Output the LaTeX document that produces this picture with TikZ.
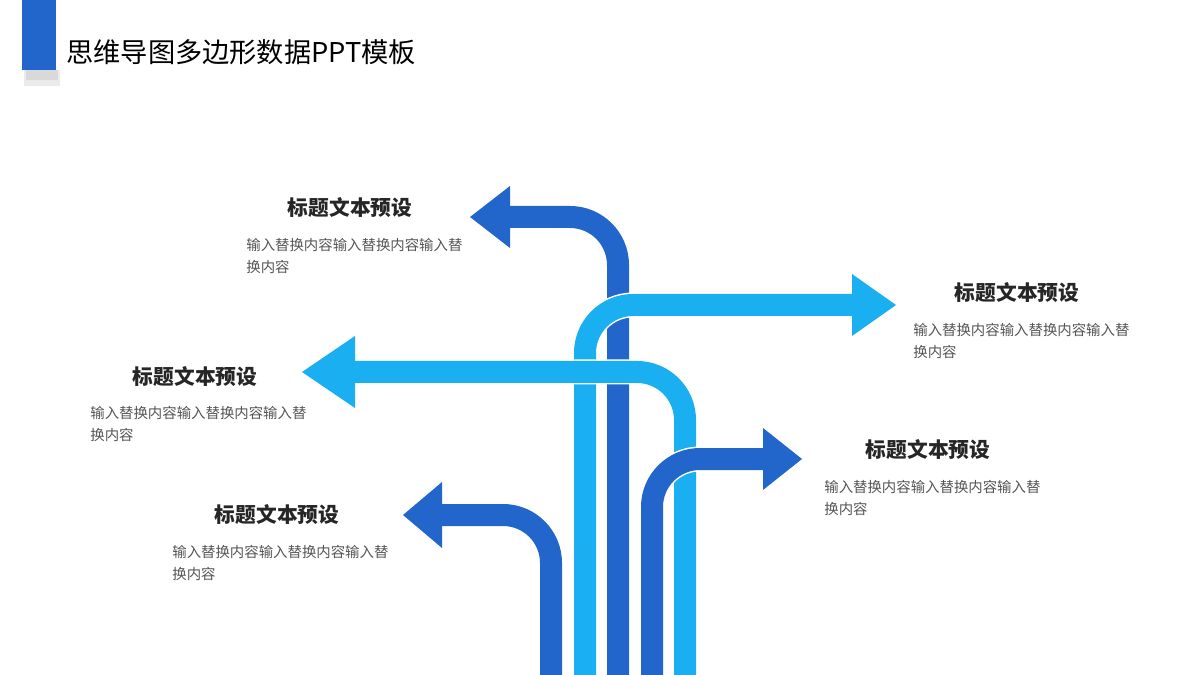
\documentclass[tikz,border=0pt]{standalone}
\usepackage{fontspec}
\setmainfont{Noto Sans CJK SC}
\definecolor{darkblue}{HTML}{2266CC}
\definecolor{lightblue}{HTML}{1AAFF0}
\definecolor{bodygray}{HTML}{555555}
\tikzset{
  shaft/.style={line width=22*0.02cm, rounded corners=48*0.02cm},
  gap/.style={line width=25*0.02cm, white, rounded corners=48*0.02cm},
  heading/.style={font=\fontsize{11.8}{13}\selectfont\bfseries, text=black!85},
  body/.style={font=\fontsize{8.2}{12.5}\selectfont, text=bodygray, anchor=north west, align=left, inner sep=0pt}
}
\begin{document}
\begin{tikzpicture}[x=0.02cm,y=-0.02cm]
  \useasboundingbox (0,0) rectangle (1200,675);
  % title bar
  \fill[black!8] (24,70) rectangle (60,86);
  \fill[black!15] (26,70) rectangle (58,80);
  \fill[darkblue] (22,0) rectangle (56,70);
  \node[anchor=west, font=\fontsize{15.5}{18}\selectfont, inner sep=0pt] (title) at (66,52) {思维导图多边形数据PPT模板};
  % arrows
  \draw[shaft, darkblue] (618,676) -- (618,217) -- (508,217);
  \fill[darkblue] (510,186) -- (470,217) -- (510,248) -- cycle;
  \draw[gap] (585,676) -- (585,305) -- (855,305);
  \draw[shaft, lightblue] (585,676) -- (585,305) -- (855,305);
  \fill[lightblue] (852,274) -- (896,305) -- (852,336) -- cycle;
  \draw[gap] (685,676) -- (685,372) -- (353,372);
  \draw[shaft, lightblue] (685,676) -- (685,372) -- (353,372);
  \fill[lightblue] (355,336) -- (302,372) -- (355,408) -- cycle;
  \draw[gap] (652,676) -- (652,459) -- (765,459);
  \draw[shaft, darkblue] (652,676) -- (652,459) -- (765,459);
  \fill[darkblue] (763,428) -- (802,459) -- (763,490) -- cycle;
  \draw[gap] (551,676) -- (551,515) -- (440,515);
  \draw[shaft, darkblue] (551,676) -- (551,515) -- (440,515);
  \fill[darkblue] (442,482) -- (403,515) -- (442,548) -- cycle;
  % texts
  \node[heading] (h1) at (350,208) {标题文本预设};
  \node[body] (b1) at (246,238) {输入替换内容输入替换内容输入替\\换内容};
  \node[heading] (h2) at (1017,293) {标题文本预设};
  \node[body] (b2) at (913,323) {输入替换内容输入替换内容输入替\\换内容};
  \node[heading] (h3) at (195,377) {标题文本预设};
  \node[body] (b3) at (90,406) {输入替换内容输入替换内容输入替\\换内容};
  \node[heading] (h4) at (928,450) {标题文本预设};
  \node[body] (b4) at (824,480) {输入替换内容输入替换内容输入替\\换内容};
  \node[heading] (h5) at (277,515) {标题文本预设};
  \node[body] (b5) at (172,545) {输入替换内容输入替换内容输入替\\换内容};
\end{tikzpicture}
\end{document}
